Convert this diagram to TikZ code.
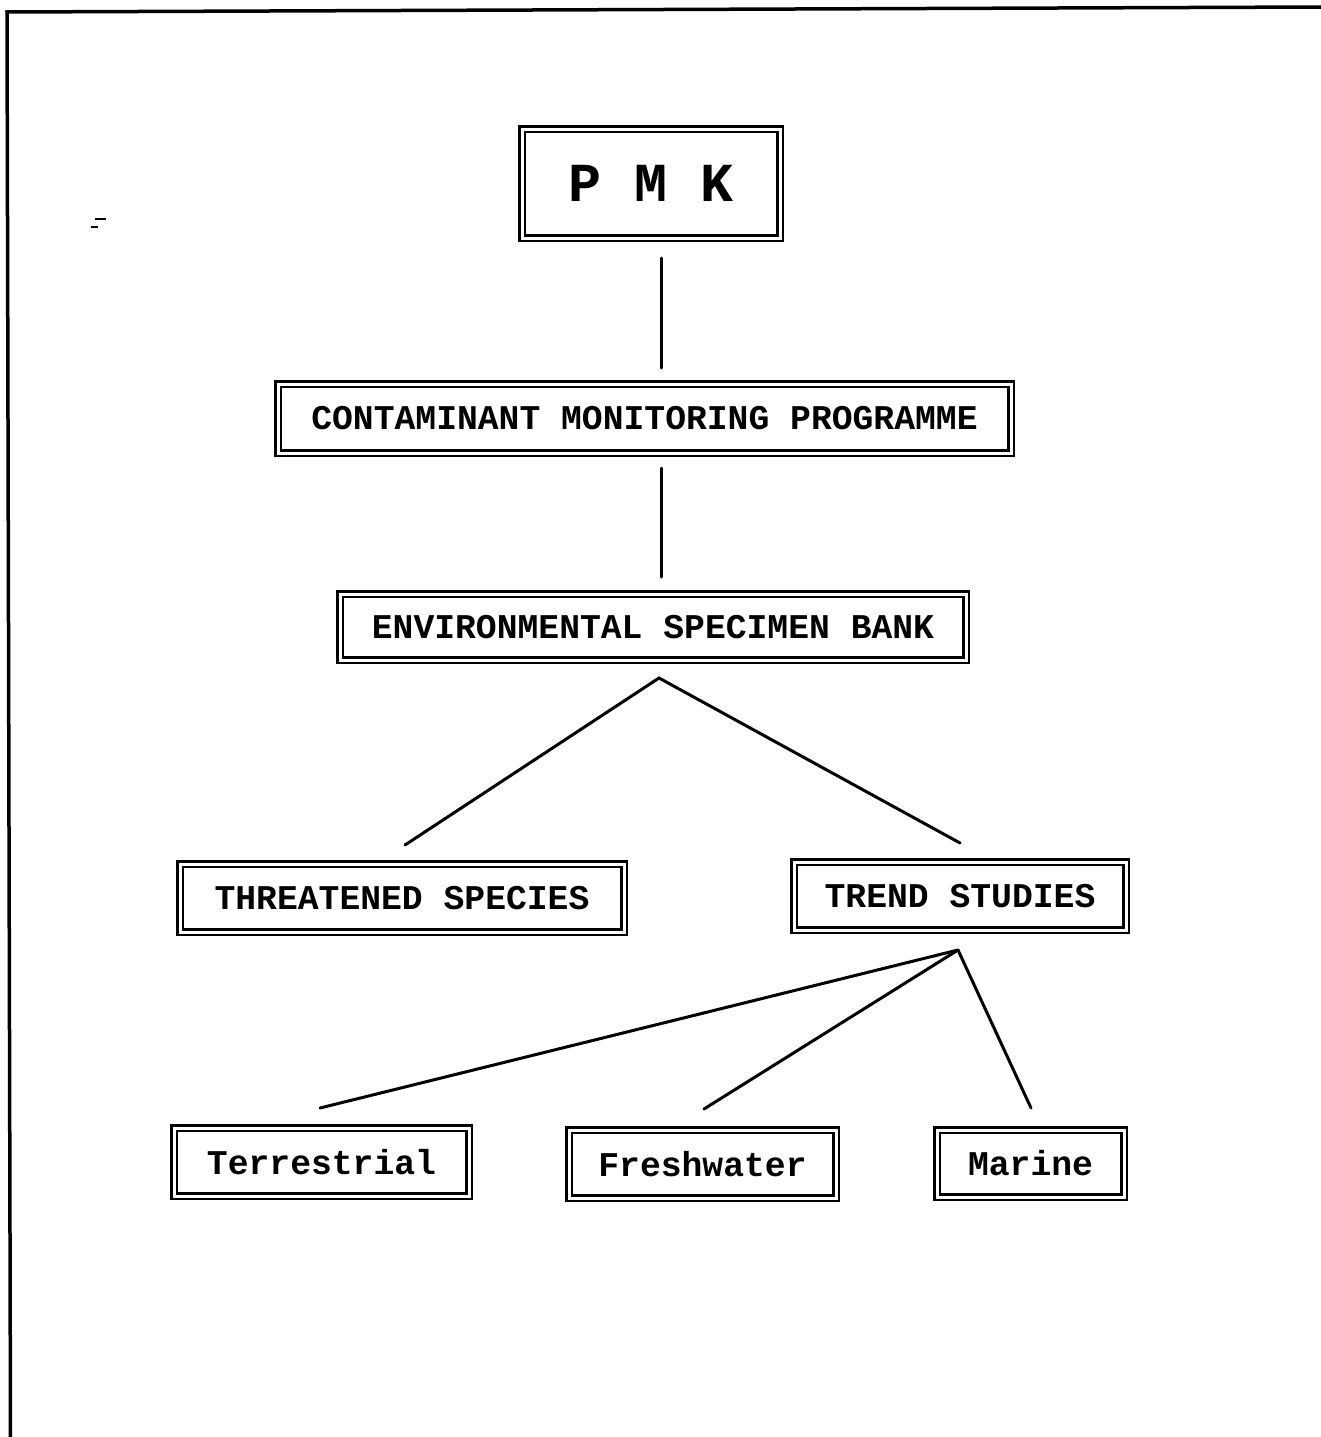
\documentclass[tikz,border=0pt]{standalone}
\usepackage{fontspec}
\setmonofont{Liberation Mono}
\begin{document}
\begin{tikzpicture}[x=1pt,y=-1pt,
  dbox/.style={draw, double, line width=2.4pt, double distance=3pt, inner sep=0pt,
    font=\ttfamily\bfseries\fontsize{34.7}{40}\selectfont},
  link/.style={line width=3pt, line cap=round},
  frame/.style={line width=3.5pt},
  speck/.style={line width=1.5pt}]
\useasboundingbox (0,0) rectangle (1321,1437);

% page frame (left and top edges only)
\draw[frame] (10.5,1437) -- (7,12) -- (1321,7);

% small stray marks
\draw[speck] (95,219) -- (106,219);
\draw[speck] (91,227) -- (98,227);

% boxes
\node[dbox, minimum width=258, minimum height=109] (pmk) at (651,183.5)
  {\fontsize{55}{60}\selectfont P M K};
\node[dbox, minimum width=733, minimum height=69] (cmp) at (644.5,418.5)
  {CONTAMINANT MONITORING PROGRAMME};
\node[dbox, minimum width=626, minimum height=66] (esb) at (653,627)
  {ENVIRONMENTAL SPECIMEN BANK};
\node[dbox, minimum width=444, minimum height=68] (threat) at (402,898)
  {THREATENED SPECIES};
\node[dbox, minimum width=332, minimum height=68] (trend) at (960,896)
  {TREND STUDIES};
\node[dbox, minimum width=295, minimum height=68] (terr) at (321.5,1162)
  {Terrestrial};
\node[dbox, minimum width=267, minimum height=68] (fresh) at (702.5,1164)
  {Freshwater};
\node[dbox, minimum width=187, minimum height=67] (marine) at (1030.5,1163.5)
  {Marine};

% connector end points
\coordinate (pmkB) at (661,258);
\coordinate (cmpT) at (661,368);
\coordinate (cmpB) at (661,468);
\coordinate (esbT) at (661,577);
\coordinate (esbB) at (659,678);
\coordinate (threatT) at (405,845);
\coordinate (trendT) at (960,843);
\coordinate (trendB) at (958,950);
\coordinate (terrT) at (320,1108);
\coordinate (freshT) at (704,1109);
\coordinate (marineT) at (1031,1108);

% connectors
\draw[link] (pmkB) -- (cmpT);
\draw[link] (cmpB) -- (esbT);
\draw[link] (threatT) -- (esbB) -- (trendT);
\draw[link] (trendB) -- (terrT);
\draw[link] (trendB) -- (freshT);
\draw[link] (trendB) -- (marineT);
\end{tikzpicture}
\end{document}
